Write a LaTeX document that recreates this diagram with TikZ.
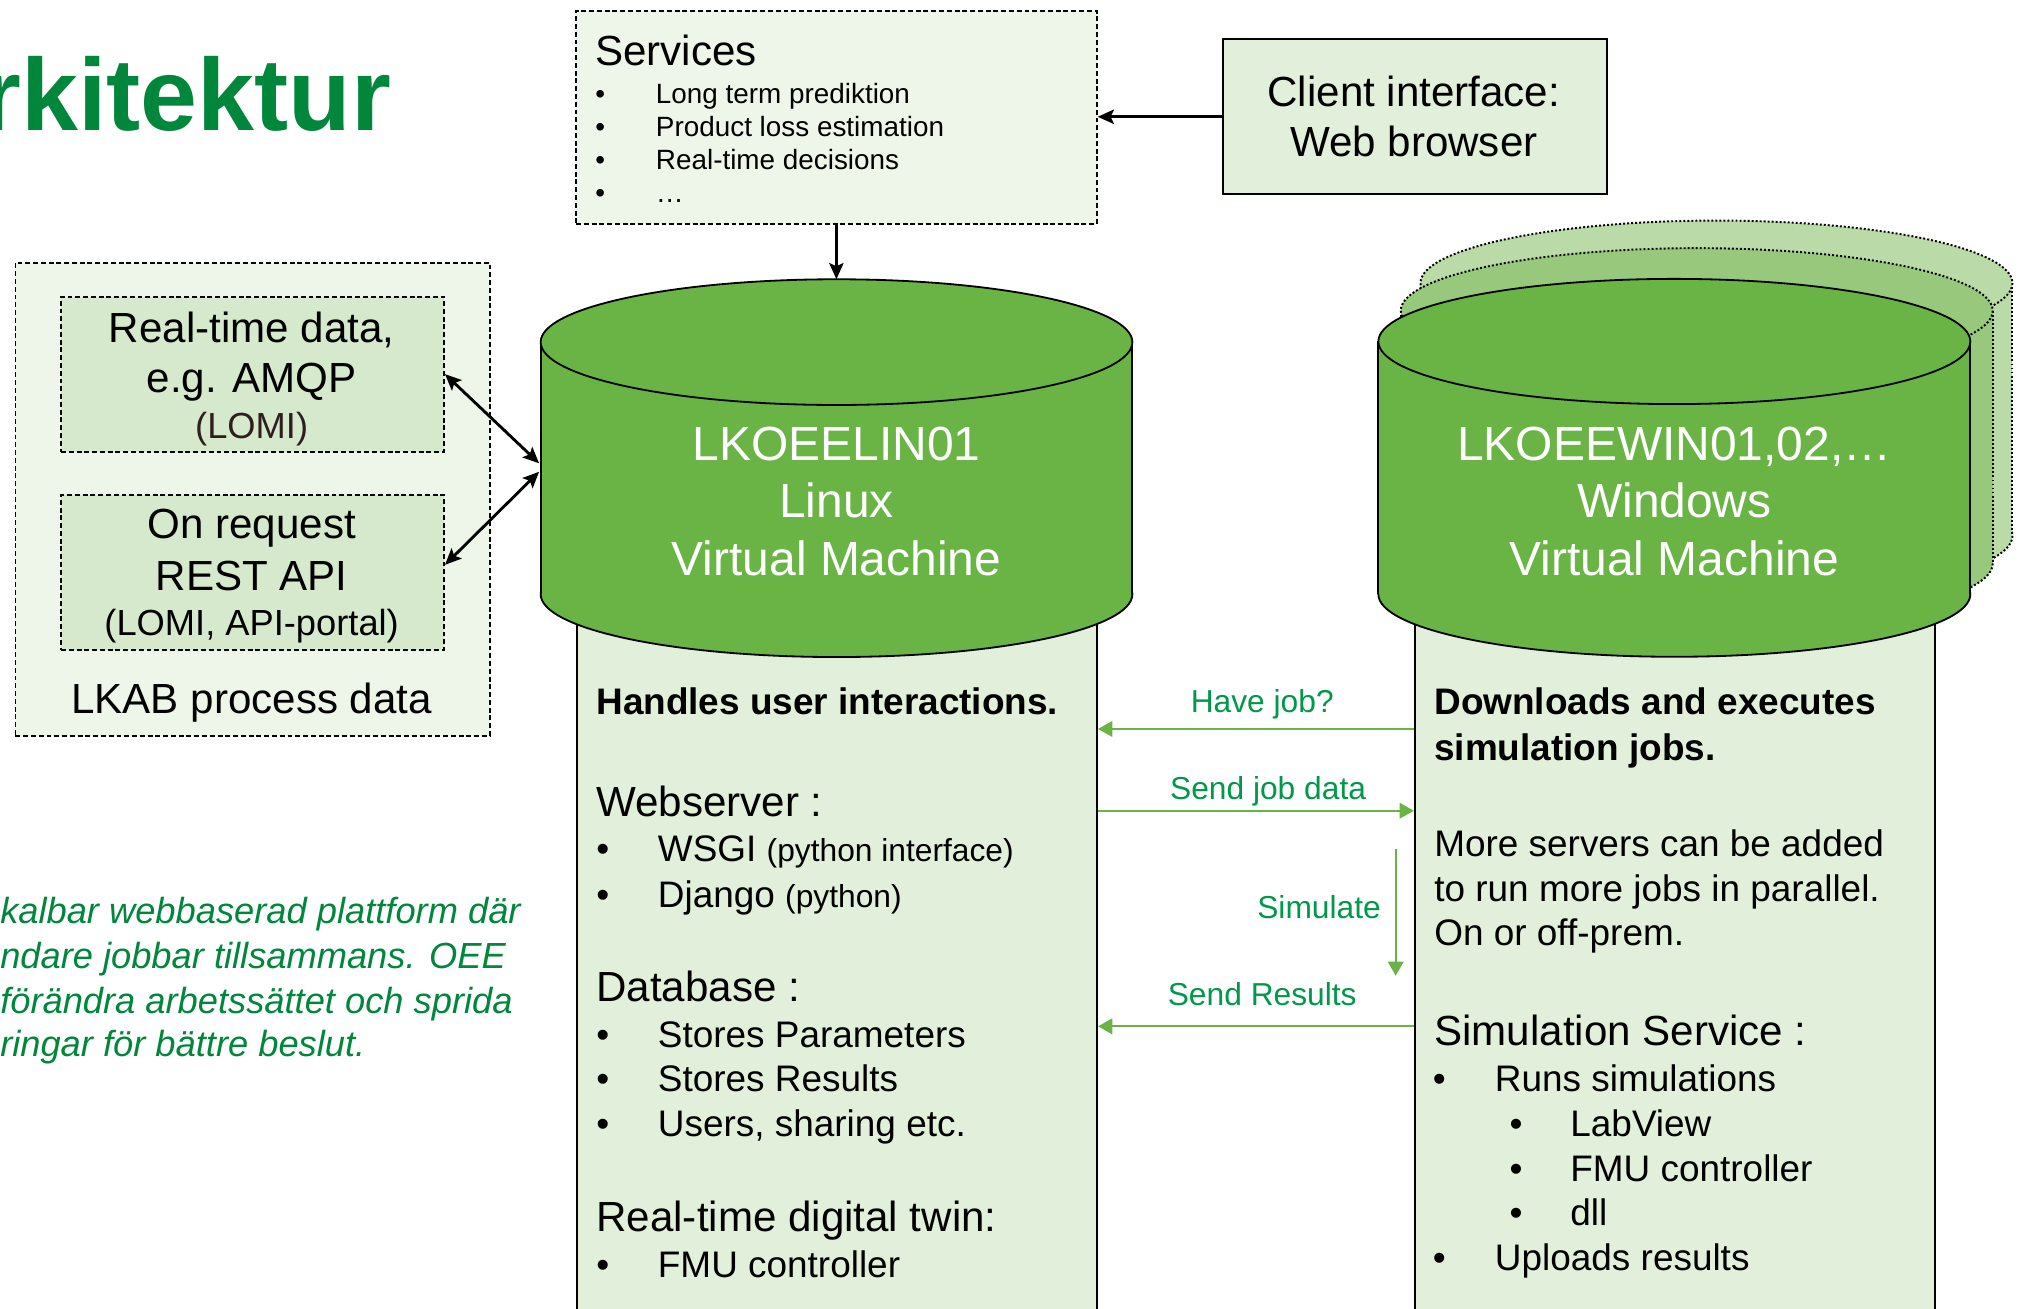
\documentclass[tikz,border=0pt]{standalone}
\usepackage{fontspec}
\setmainfont{Liberation Sans}
\usetikzlibrary{arrows.meta,calc}

\definecolor{cylgreen}{HTML}{6AB446}
\definecolor{ghostA}{HTML}{97C87B}
\definecolor{ghostB}{HTML}{BADBA7}
\definecolor{boxfill}{HTML}{E2EFDA}
\definecolor{palefill}{HTML}{EEF6EA}
\definecolor{innerfill}{HTML}{D6E9CC}
\definecolor{titlegreen}{HTML}{00873C}
\definecolor{labelgreen}{HTML}{00994A}
\definecolor{lomibrown}{HTML}{2E1F1F}

% cylinder: #1 centre x, #2 top ellipse y, #3 bottom ellipse y, #4 x radius, #5 y radius, #6 style
\newcommand\vmcylinder[6]{%
  \filldraw[#6] (#1,#3) ellipse [x radius=#4, y radius=#5];
  \fill[#6, draw=none] (#1-#4,#2) rectangle (#1+#4,#3);
  \draw[#6, fill=none] (#1-#4,#2) -- (#1-#4,#3) (#1+#4,#2) -- (#1+#4,#3);
  \filldraw[#6] (#1,#2) ellipse [x radius=#4, y radius=#5];
}

\tikzset{
  txt/.style={inner sep=0pt, anchor=base west},
  ctr/.style={inner sep=0pt, anchor=base},
  fhead/.style={font=\fontsize{32.5}{39}\selectfont},
  fbody/.style={font=\fontsize{28.5}{34}\selectfont},
  fbold/.style={font=\bfseries\fontsize{28.5}{34}\selectfont},
  fsmall/.style={font=\fontsize{28}{34}\selectfont},
  fvm/.style={font=\fontsize{37}{44}\selectfont, text=white},
  lab/.style={inner sep=0pt, font=\fontsize{24.5}{29}\selectfont, text=labelgreen},
  dashbox/.style={draw=black, line width=1.4pt, dash pattern=on 3.8pt off 2.2pt, inner sep=0pt, anchor=north west},
  solidbox/.style={draw=black, line width=1.3pt, fill=boxfill, inner sep=0pt, anchor=north west},
  cylstyle/.style={fill=cylgreen, draw=black, line width=1.4pt},
  ghostin/.style={fill=ghostA, draw=black, line width=1.5pt, dash pattern=on 1.5pt off 1.6pt},
  ghostout/.style={fill=ghostB, draw=black, line width=1.5pt, dash pattern=on 1.5pt off 1.6pt},
  barrow/.style={line width=2.2pt, -{Stealth[length=12.5pt,width=11pt,inset=2.5pt]}},
  bdouble/.style={line width=2.2pt, {Stealth[length=12.5pt,width=11pt,inset=2.5pt]}-{Stealth[length=12.5pt,width=11pt,inset=2.5pt]}},
  garrow/.style={draw=cylgreen, line width=1.6pt, -{Triangle[length=11pt,width=12pt]}},
}

\begin{document}
\begin{tikzpicture}[x=1pt,y=-1pt]
\useasboundingbox (0,0) rectangle (1568,1010);
\clip (0,0) rectangle (1568,1010);
\fill[white] (0,0) rectangle (1568,1010);

% heading and note text
\node[anchor=base east, inner sep=0pt, font=\bfseries\fontsize{79}{90}\selectfont, text=titlegreen] (title) at (302,100.5) {rkitektur};
\foreach \y/\t [count=\i] in {712.5/kalbar webbaserad plattform där, 747.2/ndare jobbar tillsammans. OEE, 782/förändra arbetssättet och sprida, 815.4/ringar för bättre beslut.}
  \node[txt, font=\itshape\fontsize{28}{34}\selectfont, text=titlegreen] (note-\i) at (0,\y) {\t};

% services and client boxes
\node[dashbox, fill=palefill, minimum width=401.8pt, minimum height=164.3pt] (svc) at (443.8,7.7) {};
\node[solidbox, line width=1.6pt, minimum width=296pt, minimum height=119.4pt] (client) at (943,29.6) {};
\node[txt, font=\fontsize{32.5}{39}\selectfont] (svcT) at (459,50.5) {Services};
\foreach \y/\t [count=\i] in {79.7/Long term prediktion, 105.2/Product loss estimation, 130.7/Real-time decisions, 156.3/…}
  \node[txt, font=\fontsize{21.5}{26}\selectfont] (svc-\i) at (459.2,\y) {\makebox[46.8pt][l]{•}\t};
\node[ctr, fhead] (cli-1) at (1091,82.2) {Client interface:};
\node[ctr, fhead] (cli-2) at (1091,120.8) {Web browser};

% process data group
\node[dashbox, fill=palefill, minimum width=366.2pt, minimum height=365pt] (lkab) at (11.2,202) {};
\node[dashbox, fill=innerfill, minimum width=295.6pt, minimum height=119.6pt] (rt) at (46.4,228.2) {};
\node[dashbox, fill=innerfill, minimum width=295.6pt, minimum height=119.3pt] (onreq) at (46.4,381.5) {};
\node[ctr, fhead] (rt-1) at (194.2,264.5) {Real-time data,};
\node[ctr, fhead] (rt-2) at (194.2,303) {e.g. AMQP};
\node[ctr, fsmall, text=lomibrown] (rt-3) at (194.2,338.5) {(LOMI)};
\node[ctr, fhead] (or-1) at (194.2,415.5) {On request};
\node[ctr, fhead] (or-2) at (194.2,455.3) {REST API};
\node[ctr, fsmall] (or-3) at (194.2,490) {(LOMI, API-portal)};
\node[ctr, fhead] (lkabT) at (194.2,550.5) {LKAB process data};

% lower panels of the two machines
\node[solidbox, minimum width=401.5pt, minimum height=560pt] (linbox) at (444.5,470) {};
\node[solidbox, minimum width=401.5pt, minimum height=560pt] (winbox) at (1091,470) {};

% virtual machine cylinders
\vmcylinder{1324.5}{218.5}{413.5}{228.4}{48.3}{ghostout}
\vmcylinder{1309.3}{239.8}{434.8}{228.4}{48.3}{ghostin}
\vmcylinder{1292}{263.5}{458.5}{228.4}{48.3}{cylstyle}
\vmcylinder{645.5}{264}{458.5}{228.3}{48.5}{cylstyle}

\foreach \y/\t [count=\i] in {355/LKOEELIN01, 399.7/Linux, 443.7/Virtual Machine}
  \node[ctr, fvm] (lin-\i) at (645.5,\y) {\t};
\foreach \y/\t [count=\i] in {355/{LKOEEWIN01,02,…}, 399.7/Windows, 443.7/Virtual Machine}
  \node[ctr, fvm] (win-\i) at (1292,\y) {\t};

% Linux panel text
\node[txt, fbold] (lt-1) at (460,551) {Handles user interactions.};
\node[txt, fhead] (lt-2) at (460,630) {Webserver :};
\node[txt, fbody] (lt-3) at (460,665) {\makebox[47.5pt][l]{•}WSGI {\fontsize{24.5}{29}\selectfont(python interface)}};
\node[txt, fbody] (lt-4) at (460,700) {\makebox[47.5pt][l]{•}Django {\fontsize{24.5}{29}\selectfont(python)}};
\node[txt, fhead] (lt-5) at (460,773) {Database :};
\foreach \y/\t [count=\i] in {808/Stores Parameters, 842.5/Stores Results, 877/{Users, sharing etc.}}
  \node[txt, fbody] (ldb-\i) at (460,\y) {\makebox[47.5pt][l]{•}\t};
\node[txt, fhead] (lt-6) at (460,950.5) {Real-time digital twin:};
\node[txt, fbody] (lt-7) at (460,986) {\makebox[47.5pt][l]{•}FMU controller};

% Windows panel text
\node[txt, fbold] (wt-1) at (1106.6,551.5) {Downloads and executes};
\node[txt, fbold] (wt-2) at (1106.6,586.5) {simulation jobs.};
\foreach \y/\t [count=\i] in {660.6/More servers can be added, 695.3/to run more jobs in parallel., 729.3/On or off-prem.}
  \node[txt, fbody] (wm-\i) at (1106.6,\y) {\t};
\node[txt, fhead] (wt-3) at (1106.6,806.5) {Simulation Service :};
\node[txt, fbody] (ws-1) at (1105.5,842.2) {\makebox[47.9pt][l]{•}Runs simulations};
\foreach \y/\t [count=\i] in {877.2/LabView, 911.9/FMU controller, 946/dll}
  \node[txt, fbody] (wsub-\i) at (1164.6,\y) {\makebox[47pt][l]{•}\t};
\node[txt, fbody] (ws-2) at (1105.5,980) {\makebox[47.9pt][l]{•}Uploads results};

% connectors
\coordinate (linTop) at (645.5,215.5);
\coordinate (linL1) at (416,357.5);
\coordinate (linL2) at (416,364);
\draw[barrow] (svc.south) -- (svc.south |- linTop);
\draw[barrow] (client.west) -- (client.west -| svc.east);
\draw[bdouble] (rt.east) -- (linL1);
\draw[bdouble] ($(onreq.east)+(0,-6)$) -- (linL2);

\coordinate (yHave) at (0,562.5);
\coordinate (ySend) at (0,625.6);
\coordinate (yRes) at (0,792);
\coordinate (simA) at (1077,655.4);
\coordinate (simB) at (1077,753);
\draw[garrow] (winbox.west |- yHave) -- (linbox.east |- yHave);
\draw[garrow] (linbox.east |- ySend) -- (winbox.west |- ySend);
\draw[garrow] (simA) -- (simB);
\draw[garrow] (winbox.west |- yRes) -- (linbox.east |- yRes);

\node[lab, anchor=base] (lblHave) at (974,549.7) {Have job?};
\node[lab, anchor=base] (lblSend) at (978.5,616.6) {Send job data};
\node[lab, anchor=base east] (lblSim) at (1065.7,708.6) {Simulate};
\node[lab, anchor=base] (lblRes) at (974,776) {Send Results};
\end{tikzpicture}
\end{document}
